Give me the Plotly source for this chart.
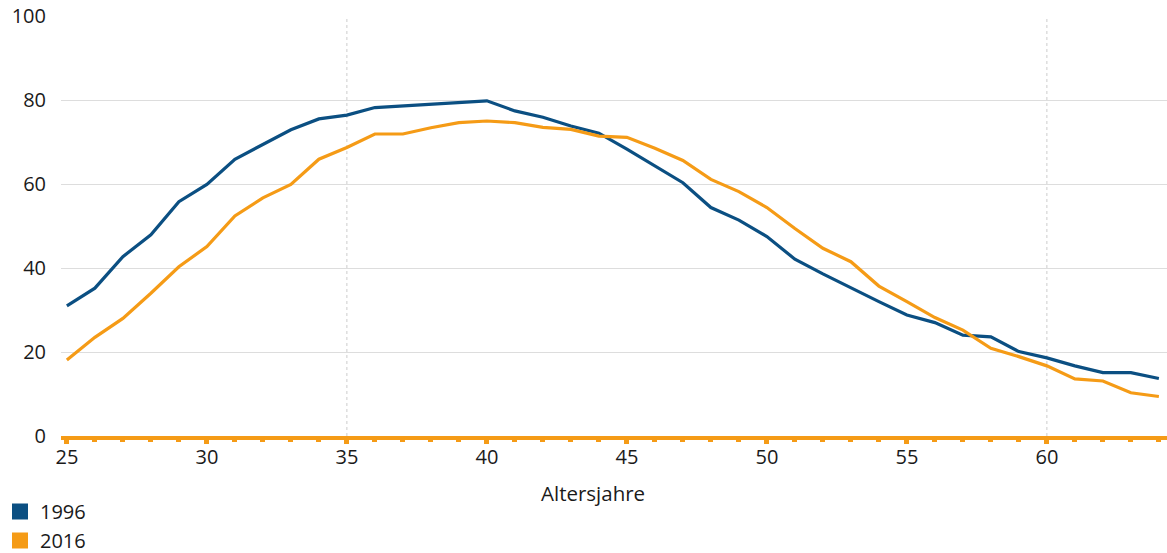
import plotly.graph_objects as go

# Altersjahre 25..64
ages = list(range(25, 65))

share_1996 = [31.0, 35.2, 42.7, 47.9, 55.8, 59.9, 65.9, 69.3, 72.9, 75.5,
              76.4, 78.2, 78.6, 79.0, 79.4, 79.8, 77.4, 75.9, 73.8, 72.1,
              68.3, 64.3, 60.3, 54.4, 51.4, 47.5, 42.1, 38.6, 35.2, 32.0,
              28.8, 27.0, 24.0, 23.6, 20.1, 18.6, 16.7, 15.1, 15.1, 13.7]

share_2016 = [18.1, 23.5, 28.0, 34.0, 40.3, 45.1, 52.4, 56.7, 59.9, 65.9,
              68.7, 71.9, 71.9, 73.4, 74.6, 75.0, 74.6, 73.5, 73.0, 71.4,
              71.1, 68.5, 65.6, 61.1, 58.2, 54.4, 49.4, 44.7, 41.5, 35.7,
              32.0, 28.2, 25.2, 20.9, 18.9, 16.7, 13.6, 13.1, 10.3, 9.4]

series = [("1996", share_1996, "#0b4f82"), ("2016", share_2016, "#f59b16")]
marker_years = [35, 60]

FONT = "Open Sans"
TXT = "#1a1a1a"
ORANGE = "#f59b16"

fig = go.Figure()

for name, vals, color in series:
    fig.add_trace(go.Scatter(
        x=ages, y=vals, mode="lines", name=name,
        line=dict(color=color, width=3.2),
        showlegend=False, hoverinfo="x+y",
    ))
    # square legend entry
    fig.add_trace(go.Scatter(
        x=[None], y=[None], mode="markers", name=name,
        marker=dict(symbol="square", size=16, color=color),
        showlegend=True,
    ))

for yr in marker_years:
    fig.add_shape(type="line", x0=yr, x1=yr, xref="x", y0=0, y1=1, yref="paper",
                  line=dict(color="#cccccc", width=1, dash="dot"), layer="below")

fig.add_annotation(text="Altersjahre", x=0.481, xref="paper", y=-0.135, yref="paper",
                   showarrow=False, font=dict(family=FONT, size=20.5, color=TXT),
                   xanchor="center", yanchor="middle")

fig.update_layout(
    width=1167, height=553,
    margin=dict(l=61, r=0, t=16, b=117, autoexpand=False),
    plot_bgcolor="white", paper_bgcolor="white",
    font=dict(family=FONT, size=20, color=TXT),
    xaxis=dict(
        range=[24.79, 64.29], tickmode="linear", tick0=25, dtick=5,
        showgrid=False, zeroline=False,
        showline=True, linecolor=ORANGE, linewidth=4,
        ticks="outside", ticklen=4, tickwidth=5, tickcolor=ORANGE,
        minor=dict(tickmode="linear", tick0=25, dtick=1, ticks="outside",
                   ticklen=2, tickwidth=5, tickcolor=ORANGE, showgrid=False),
        ticklabelstandoff=-4,
        tickfont=dict(family=FONT, size=20, color=TXT),
    ),
    yaxis=dict(
        range=[0, 100], tickmode="linear", tick0=0, dtick=20,
        showgrid=True, gridcolor="#dddddd", gridwidth=1,
        zeroline=False, showline=False,
        ticklabelstandoff=14,
        tickfont=dict(family=FONT, size=20, color=TXT),
    ),
    legend=dict(
        x=0, xref="container", xanchor="left",
        y=1 - 492 / 553, yref="container", yanchor="top",
        orientation="v", font=dict(family=FONT, size=20, color=TXT),
        itemsizing="trace", tracegroupgap=0, bgcolor="rgba(0,0,0,0)",
    ),
)

fig.write_html("out.html")
